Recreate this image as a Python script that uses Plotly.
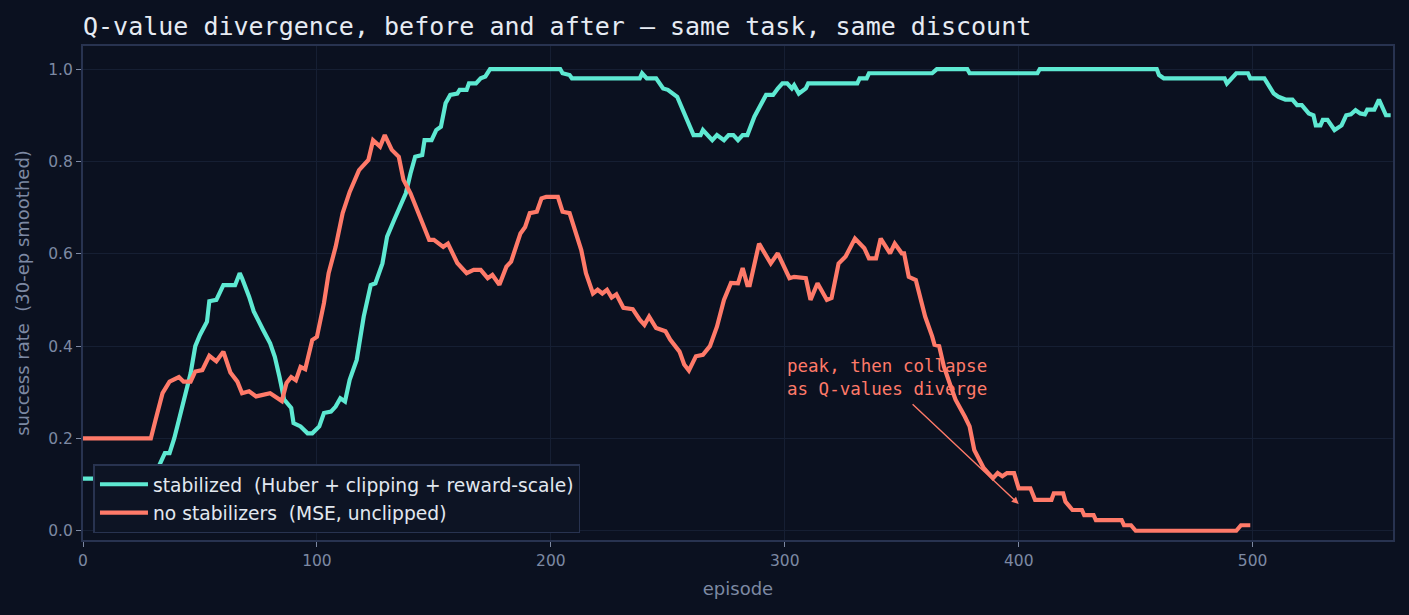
import plotly.graph_objects as go

# ---- data ----
stab_ep = [0, 29, 30, 32, 35, 37, 39, 41, 43, 46, 48, 50, 53, 54, 57, 58, 60, 65, 67, 68, 70, 71, 73, 75, 77, 80, 82, 84, 86, 89, 90, 93, 96, 98, 101, 103, 106, 108, 110, 112, 114, 117, 120, 123, 125, 128, 130, 133, 135, 138, 140, 142, 145, 146, 149, 151, 153, 155, 157, 160, 161, 164, 165, 168, 170, 172, 174, 204, 205, 208, 209, 238, 239, 241, 245, 248, 250, 252, 254, 261, 264, 265, 269, 271, 274, 276, 278, 280, 282, 284, 287, 292, 295, 297, 299, 301, 303, 304, 306, 309, 310, 331, 332, 335, 336, 363, 365, 378, 379, 408, 409, 459, 460, 462, 488, 489, 491, 493, 498, 499, 505, 507, 509, 511, 514, 517, 519, 521, 524, 526, 527, 529, 530, 532, 535, 538, 540, 542, 544, 546, 548, 549, 552, 554, 556, 557, 559]
stab_val = [0.113, 0.113, 0.113, 0.135, 0.168, 0.168, 0.2, 0.24, 0.284, 0.341, 0.4, 0.424, 0.453, 0.497, 0.5, 0.511, 0.532, 0.532, 0.558, 0.547, 0.522, 0.507, 0.475, 0.457, 0.435, 0.406, 0.377, 0.333, 0.284, 0.266, 0.233, 0.226, 0.211, 0.211, 0.226, 0.255, 0.258, 0.269, 0.287, 0.28, 0.327, 0.37, 0.464, 0.532, 0.536, 0.579, 0.637, 0.673, 0.695, 0.731, 0.774, 0.81, 0.814, 0.846, 0.846, 0.868, 0.875, 0.926, 0.944, 0.947, 0.955, 0.955, 0.969, 0.969, 0.98, 0.984, 1.0, 1.0, 0.991, 0.987, 0.98, 0.98, 0.991, 0.98, 0.98, 0.958, 0.955, 0.947, 0.94, 0.857, 0.857, 0.868, 0.846, 0.857, 0.846, 0.857, 0.857, 0.846, 0.857, 0.857, 0.897, 0.944, 0.944, 0.958, 0.969, 0.969, 0.958, 0.965, 0.947, 0.958, 0.969, 0.969, 0.98, 0.98, 0.991, 0.991, 1.0, 1.0, 0.991, 0.991, 1.0, 1.0, 0.987, 0.98, 0.98, 0.969, 0.98, 0.991, 0.991, 0.98, 0.98, 0.965, 0.947, 0.94, 0.934, 0.934, 0.922, 0.922, 0.904, 0.9, 0.878, 0.878, 0.89, 0.89, 0.868, 0.878, 0.9, 0.902, 0.911, 0.904, 0.902, 0.912, 0.912, 0.934, 0.908, 0.9, 0.9]

nostab_ep = [0, 29, 31, 34, 37, 41, 43, 46, 48, 51, 54, 57, 60, 63, 66, 68, 71, 74, 80, 83, 85, 87, 89, 91, 93, 95, 98, 100, 103, 105, 108, 111, 114, 118, 122, 124, 127, 129, 132, 135, 137, 140, 144, 148, 150, 154, 156, 160, 164, 167, 170, 173, 175, 178, 181, 183, 187, 189, 191, 194, 196, 198, 203, 205, 208, 213, 215, 218, 220, 222, 224, 226, 228, 231, 235, 238, 240, 242, 245, 249, 251, 255, 257, 259, 262, 265, 268, 271, 274, 277, 280, 282, 284, 285, 289, 294, 297, 302, 304, 309, 311, 314, 318, 320, 323, 326, 330, 334, 336, 339, 341, 345, 347, 350, 351, 353, 356, 358, 360, 363, 364, 366, 368, 371, 373, 377, 379, 381, 385, 387, 389, 391, 393, 395, 398, 400, 405, 407, 414, 415, 419, 420, 423, 427, 428, 432, 433, 444, 445, 448, 450, 493, 495, 499]
nostab_val = [0.2, 0.2, 0.24, 0.298, 0.323, 0.333, 0.323, 0.323, 0.345, 0.348, 0.379, 0.367, 0.388, 0.343, 0.323, 0.298, 0.302, 0.291, 0.298, 0.288, 0.281, 0.32, 0.333, 0.326, 0.355, 0.35, 0.413, 0.42, 0.493, 0.558, 0.615, 0.688, 0.734, 0.781, 0.803, 0.846, 0.832, 0.857, 0.825, 0.81, 0.76, 0.731, 0.681, 0.63, 0.63, 0.615, 0.622, 0.58, 0.558, 0.565, 0.565, 0.547, 0.554, 0.533, 0.572, 0.583, 0.644, 0.658, 0.688, 0.691, 0.72, 0.723, 0.723, 0.691, 0.688, 0.608, 0.558, 0.514, 0.522, 0.514, 0.522, 0.505, 0.512, 0.483, 0.48, 0.457, 0.446, 0.464, 0.439, 0.432, 0.414, 0.388, 0.36, 0.347, 0.378, 0.381, 0.4, 0.442, 0.5, 0.537, 0.536, 0.569, 0.532, 0.532, 0.622, 0.579, 0.601, 0.547, 0.55, 0.547, 0.5, 0.536, 0.5, 0.504, 0.579, 0.594, 0.633, 0.612, 0.59, 0.59, 0.633, 0.601, 0.622, 0.601, 0.601, 0.55, 0.543, 0.5, 0.464, 0.421, 0.403, 0.4, 0.356, 0.312, 0.284, 0.247, 0.226, 0.175, 0.136, 0.125, 0.114, 0.125, 0.118, 0.125, 0.125, 0.092, 0.092, 0.067, 0.067, 0.081, 0.081, 0.063, 0.045, 0.045, 0.034, 0.034, 0.023, 0.023, 0.012, 0.012, 0.0, 0.0, 0.012, 0.012]

x_ticks = [0, 100, 200, 300, 400, 500]
y_ticks = [0.0, 0.2, 0.4, 0.6, 0.8, 1.0]

BG = "#0b1120"
GRID = "#161f33"
FRAME = "#283350"
TICK = "#7d89a3"
TEAL = "#5ee9d2"
CORAL = "#ff7a69"

fig = go.Figure()
fig.add_trace(go.Scatter(x=stab_ep, y=stab_val, mode="lines", legendgroup="a",
                         name="stabilized\u00a0 (Huber + clipping + reward-scale)",
                         line=dict(color=TEAL, width=4.2)))
fig.add_trace(go.Scatter(x=nostab_ep, y=nostab_val, mode="lines", legendgroup="b",
                         name="no stabilizers\u00a0 (MSE, unclipped)",
                         line=dict(color=CORAL, width=4.2)))

fig.add_annotation(x=300, y=0.281, xref="x", yref="y",
                   text="peak, then collapse<br>as Q-values diverge",
                   showarrow=False, xanchor="left", yanchor="bottom", align="left",
                   font=dict(family="DejaVu Sans Mono", size=17.5, color=CORAL))
fig.add_annotation(x=400, y=0.058, ax=354, ay=0.277, xref="x", yref="y",
                   axref="x", ayref="y", text="", showarrow=True,
                   arrowhead=2, arrowsize=1, arrowwidth=1.4, arrowcolor=CORAL)

fig.update_layout(
    width=1409, height=615,
    paper_bgcolor=BG, plot_bgcolor=BG,
    margin=dict(l=83, r=16, t=46, b=75),
    title=dict(text="Q-value divergence, before and after — same task, same discount",
               x=83/1409, xanchor="left", y=1 - 26/615, yanchor="middle",
               font=dict(family="DejaVu Sans Mono", size=25, color="#e6ebf3")),
    font=dict(family="DejaVu Sans", color=TICK),
    legend=dict(x=0.008, y=0.014, xanchor="left", yanchor="bottom",
                bgcolor="#0d1424", bordercolor=FRAME, borderwidth=1.5,
                font=dict(family="DejaVu Sans", size=18.7, color="#e2e8f0"),
                itemwidth=48, tracegroupgap=1),
    xaxis=dict(range=[0, 560], tickvals=x_ticks, showgrid=True, gridcolor=GRID,
               zeroline=False, showline=True, linecolor=FRAME, linewidth=2, mirror=True,
               ticks="outside", ticklen=5, tickcolor=TICK,
               tickfont=dict(size=15.5, color=TICK),
               title=dict(text="episode", font=dict(size=18, color=TICK), standoff=14)),
    yaxis=dict(range=[-0.02, 1.05], tickvals=y_ticks, tickformat=".1f",
               showgrid=True, gridcolor=GRID,
               zeroline=False, showline=True, linecolor=FRAME, linewidth=2, mirror=True,
               ticks="outside", ticklen=5, tickcolor=TICK,
               tickfont=dict(size=15.5, color=TICK),
               title=dict(text="success rate\u00a0 (30-ep smoothed)", font=dict(size=18, color=TICK),
                          standoff=14)),
)

fig.write_html("out.html")
